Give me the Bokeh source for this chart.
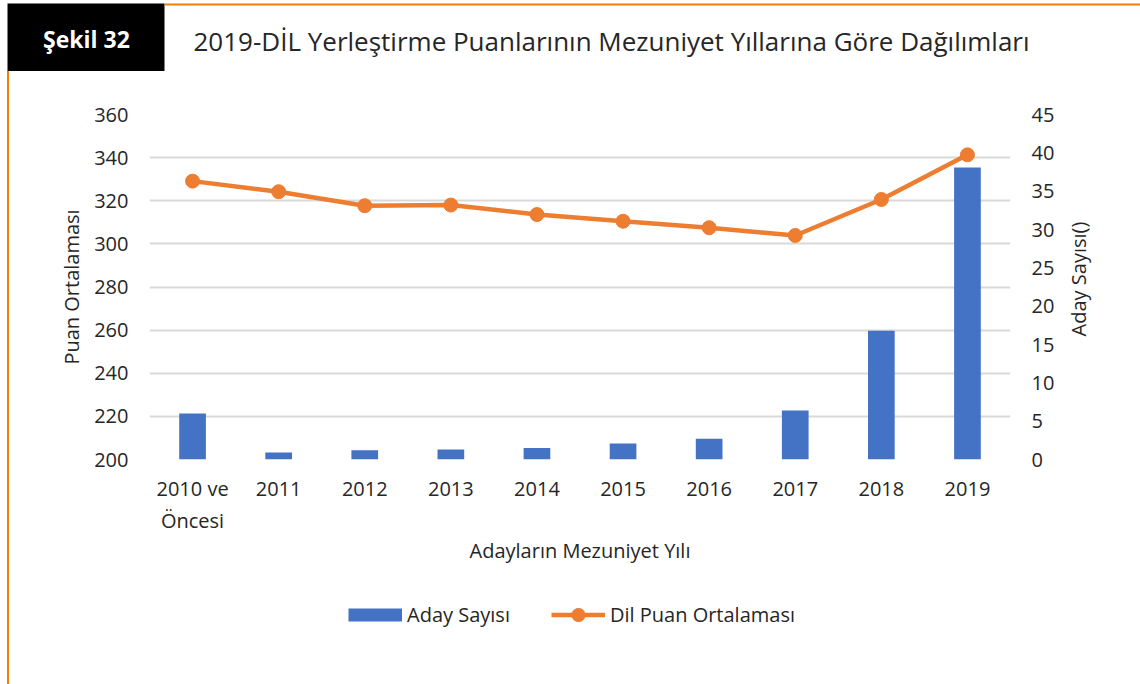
import math
from bokeh.plotting import figure
from bokeh.models import (Range1d, LinearAxis, SingleIntervalTicker, Legend, LegendItem,
                          FactorRange, Div)
from bokeh.layouts import column, row
from bokeh.core.properties import value
from bokeh.embed import file_html
from bokeh.resources import INLINE

# ---------------- data ----------------
years = ["2010 ve\nÖncesi", "2011", "2012", "2013", "2014", "2015", "2016", "2017", "2018", "2019"]
aday_sayisi = [6.0, 0.9, 1.2, 1.3, 1.5, 2.1, 2.7, 6.4, 16.8, 38.1]
dil_puan_ort = [329.1, 324.2, 317.7, 318.0, 313.6, 310.5, 307.5, 303.9, 320.6, 341.3]

left_range = (200, 360)
right_range = (0, 45)

title_box_text = "Şekil 32"
title_text = "2019-DİL Yerleştirme Puanlarının Mezuniyet Yıllarına Göre Dağılımları"
x_title = "Adayların Mezuniyet Yılı"
y_left_title = "Puan Ortalaması"
y_right_title = "Aday Sayısı()"
bar_label = "Aday Sayısı"
line_label = "Dil Puan Ortalaması"

# ---------------- style ----------------
FONT = "Open Sans"
FS = "20px"
TXT = "#262626"
BLUE = "#4472C4"
ORANGE = "#ED7D31"
FRAME_ORANGE = "#F08000"
GRID = "#D9D9D9"

PAGE_W, PAGE_H = 1140, 684
HEAD_H = 71
PAD_L = 7
STRIP_W = 2

# ---------------- header ----------------
hdr = figure(width=PAGE_W, height=HEAD_H, x_range=Range1d(0, PAGE_W), y_range=Range1d(HEAD_H, 0),
             output_backend="svg", toolbar_location=None, min_border=0,
             x_axis_location=None, y_axis_location=None)
hdr.outline_line_color = None
hdr.grid.grid_line_color = None
hdr.quad(left=[7], right=[164], top=[3], bottom=[HEAD_H], fill_color="black", line_color=None)
hdr.quad(left=[164], right=[PAGE_W], top=[3], bottom=[5], fill_color=FRAME_ORANGE, line_color=None)
hdr.text(x=[86], y=[38], text=[title_box_text], text_font=value(FONT), text_font_style="bold",
         text_font_size="23px", text_color="white", text_align="center", text_baseline="middle")
hdr.text(x=[193], y=[40], text=[title_text], text_font=value(FONT),
         text_font_size="26px", text_color=TXT, text_align="left", text_baseline="middle")

# ---------------- main chart ----------------
X0 = PAD_L + STRIP_W
RLAB_W = 80
MAIN_W = PAGE_W - X0 - RLAB_W
FRAME_L = 149 - X0
FRAME_W = 861
FRAME_T = 114 - HEAD_H
FRAME_H = 345
FRAME_B_BORDER = 110
MAIN_H = FRAME_T + FRAME_H + FRAME_B_BORDER
LEG_H = PAGE_H - HEAD_H - MAIN_H

p = figure(width=MAIN_W, height=MAIN_H, x_range=FactorRange(*years),
           y_range=Range1d(*left_range),
           output_backend="svg", toolbar_location=None,
           min_border_left=FRAME_L, min_border_right=MAIN_W - FRAME_L - FRAME_W,
           min_border_top=FRAME_T, min_border_bottom=FRAME_B_BORDER,
           frame_width=FRAME_W, frame_height=FRAME_H)
p.outline_line_color = None
p.extra_y_ranges = {"right": Range1d(*right_range)}

p.xgrid.grid_line_color = None
p.ygrid.grid_line_color = GRID
p.ygrid.grid_line_width = 2
p.ygrid.ticker = SingleIntervalTicker(interval=20)


def style_axis(ax, standoff, label_standoff):
    ax.axis_line_color = None
    ax.major_tick_line_color = None
    ax.minor_tick_line_color = None
    ax.major_tick_out = 0
    ax.major_tick_in = 0
    ax.minor_tick_out = 0
    ax.minor_tick_in = 0
    ax.major_label_standoff = standoff
    ax.major_label_text_font = FONT
    ax.major_label_text_font_size = FS
    ax.major_label_text_color = TXT
    ax.axis_label_text_font = FONT
    ax.axis_label_text_font_style = "normal"
    ax.axis_label_text_font_size = FS
    ax.axis_label_text_color = TXT
    ax.axis_label_standoff = label_standoff


p.yaxis.ticker = SingleIntervalTicker(interval=20)
p.yaxis[0].axis_label = y_left_title
style_axis(p.yaxis[0], 21, 6)

ra = LinearAxis(y_range_name="right", ticker=SingleIntervalTicker(interval=5))
style_axis(ra, 21, 0)
p.add_layout(ra, "right")

p.xaxis[0].axis_label = x_title
style_axis(p.xaxis[0], 15, 0)

bars = p.vbar(x=years, top=aday_sayisi, bottom=0, width=0.31, y_range_name="right",
              fill_color=BLUE, line_color=None)
line = p.line(x=years, y=dil_puan_ort, line_color=ORANGE, line_width=4.5, line_join="round")
pts = p.scatter(x=years, y=dil_puan_ort, size=14, fill_color=ORANGE, line_color=ORANGE)

# ---------------- right axis title (reads bottom-to-top) ----------------
rlab = figure(width=RLAB_W, height=MAIN_H, x_range=Range1d(0, RLAB_W), y_range=Range1d(MAIN_H, 0),
              output_backend="svg", toolbar_location=None, min_border=0,
              x_axis_location=None, y_axis_location=None)
rlab.outline_line_color = None
rlab.grid.grid_line_color = None
rlab.text(x=[1078 - (X0 + MAIN_W)], y=[FRAME_T + FRAME_H / 2 + 22], text=[y_right_title],
          angle=math.pi / 2, text_font=value(FONT), text_font_size=FS, text_color=TXT,
          text_align="center", text_baseline="middle")

# ---------------- legend strip (same series, kept outside its visible range) ----------------
leg = figure(width=PAGE_W - X0, height=LEG_H, output_backend="svg", toolbar_location=None,
             min_border=0, x_axis_location=None, y_axis_location=None,
             x_range=FactorRange(*years), y_range=Range1d(5000, 5001))
leg.outline_line_color = None
leg.grid.grid_line_color = None
lb = leg.line(x=years, y=aday_sayisi, line_color=BLUE, line_width=13, line_cap="butt")
ll = leg.line(x=years, y=dil_puan_ort, line_color=ORANGE, line_width=4.5)
lp = leg.scatter(x=years, y=dil_puan_ort, size=14, fill_color=ORANGE, line_color=ORANGE)
legend = Legend(items=[LegendItem(label=bar_label, renderers=[lb]),
                       LegendItem(label=line_label, renderers=[ll, lp])],
                orientation="horizontal", location=(339, 53),
                glyph_width=54, glyph_height=33, spacing=41, label_standoff=5,
                label_text_font=FONT, label_text_font_size=FS, label_text_color=TXT,
                border_line_color=None, background_fill_alpha=0, padding=0, margin=0)
leg.add_layout(legend, "center")

left_pad = Div(width=PAD_L, height=PAGE_H - HEAD_H, margin=0)
strip = Div(width=STRIP_W, height=PAGE_H - HEAD_H, margin=0,
            styles={"background-color": FRAME_ORANGE})

layout = column(hdr,
                row(left_pad, strip,
                    column(row(p, rlab, spacing=0), leg, spacing=0),
                    spacing=0),
                spacing=0)

open("out.html", "w").write(file_html(layout, INLINE))
